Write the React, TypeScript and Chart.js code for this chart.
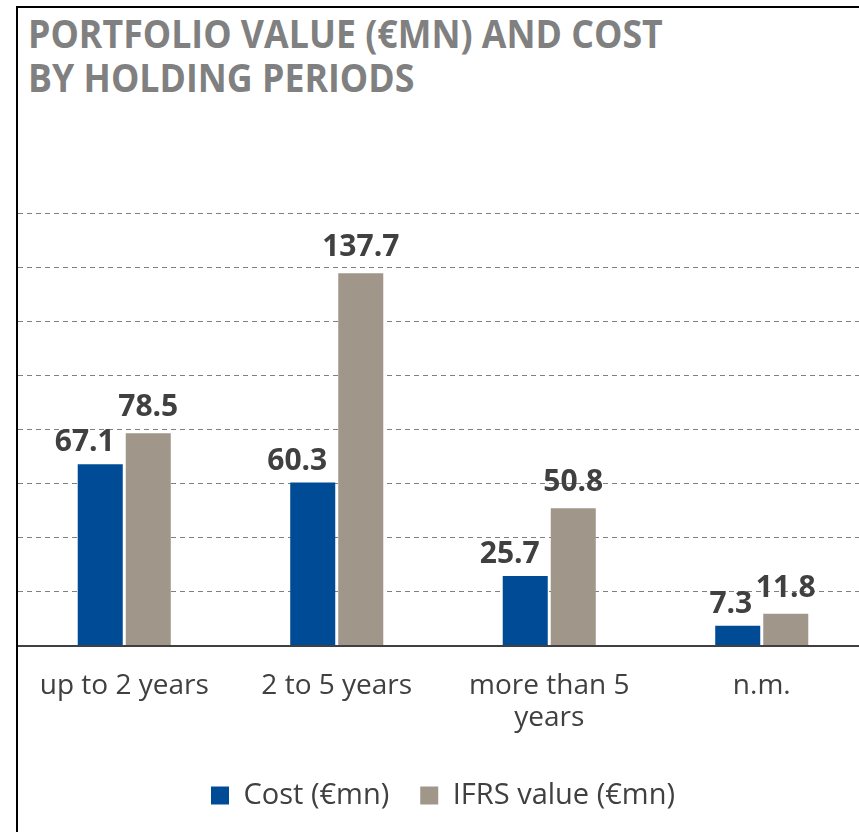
import React, { useEffect, useRef } from "react";
import { Chart, registerables } from "chart.js";

Chart.register(...registerables);

const categories: (string | string[])[] = ["up to 2 years", "2 to 5 years", ["more than 5", "years"], "n.m."];
const costValues = [67.1, 60.3, 25.7, 7.3];
const ifrsValues = [78.5, 137.7, 50.8, 11.8];
const seriesNames = ["Cost (€mn)", "IFRS value (€mn)"];
const titleLines = ["PORTFOLIO VALUE (€MN) AND COST", "BY HOLDING PERIODS"];

const BLUE = "#004b96";
const GREY = "#a0968a";
const TEXT = "#404040";

const labelPlugin = {
  id: "barLabels",
  afterDatasetsDraw(chart: any) {
    const ctx = chart.ctx;
    ctx.save();
    ctx.font = "bold 30px 'Open Sans'";
    ctx.fillStyle = TEXT;
    ctx.textBaseline = "alphabetic";
    chart.data.datasets.forEach((ds: any, di: number) => {
      const meta = chart.getDatasetMeta(di);
      meta.data.forEach((bar: any, i: number) => {
        const v = ds.data[i];
        const txt = v.toFixed(1);
        if (di === 0) {
          ctx.textAlign = "right";
          ctx.fillText(txt, bar.x + bar.width / 2 - 8, bar.y - 13);
        } else {
          ctx.textAlign = "center";
          ctx.fillText(txt, bar.x, bar.y - 17);
        }
      });
    });
    ctx.restore();
  },
};

export default function App() {
  const ref = useRef<HTMLCanvasElement>(null);
  useEffect(() => {
    if (!ref.current) return;
    const chart = new Chart(ref.current, {
      type: "bar",
      data: {
        labels: categories,
        datasets: [
          {
            label: seriesNames[0],
            data: costValues,
            backgroundColor: BLUE,
            categoryPercentage: 0.452,
            barPercentage: 0.9375,
          },
          {
            label: seriesNames[1],
            data: ifrsValues,
            backgroundColor: GREY,
            categoryPercentage: 0.452,
            barPercentage: 0.9375,
          },
        ],
      },
      options: {
        animation: false,
        responsive: false,
        maintainAspectRatio: false,
        layout: { padding: { top: 63, left: 0, right: 0, bottom: 12 } },
        plugins: {
          legend: {
            position: "bottom",
            labels: {
              boxWidth: 18,
              boxHeight: 18,
              padding: 31,
              color: TEXT,
              font: { family: "'Open Sans'", size: 29 },
            },
          },
          tooltip: { enabled: false },
          title: { display: false },
        },
        scales: {
          x: {
            grid: { display: false },
            border: { display: true, color: TEXT, width: 2 },
            ticks: {
              color: TEXT,
              font: { family: "'Open Sans'", size: 28, lineHeight: 1.15 },
              padding: 16,
              maxRotation: 0,
              autoSkip: false,
            },
          },
          y: {
            min: 0,
            max: 160,
            ticks: { display: false, stepSize: 20 },
            border: { display: false, dash: [5, 4] },
            grid: {
              drawTicks: false,
              color: (c: any) => (c.tick && c.tick.value === 0 ? "rgba(0,0,0,0)" : "#808080"),
              lineWidth: 1,
            },
          },
        },
      },
      plugins: [labelPlugin],
    });
    return () => chart.destroy();
  }, []);

  return (
    <div
      style={{
        position: "fixed",
        left: 0,
        top: 0,
        width: 859,
        height: 832,
        overflow: "hidden",
        background: "#fff",
      }}
    >
      <div
        style={{
          position: "absolute",
          left: 16,
          top: 6,
          width: 1000,
          height: 1000,
          borderLeft: "2px solid #000",
          borderTop: "2px solid #000",
        }}
      />
      <div
        style={{
          position: "absolute",
          left: 28,
          top: 11,
          fontFamily: "'Open Sans', sans-serif",
          fontWeight: 700,
          fontSize: 40,
          lineHeight: "44px",
          color: "#808080",
          transform: "scaleX(0.893)",
          transformOrigin: "left top",
          whiteSpace: "nowrap",
        }}
      >
        {titleLines.map((t, i) => (
          <div key={i}>{t}</div>
        ))}
      </div>
      <canvas
        ref={ref}
        width={850}
        height={682}
        style={{ position: "absolute", left: 18, top: 150, width: 850, height: 682 }}
      />
    </div>
  );
}
